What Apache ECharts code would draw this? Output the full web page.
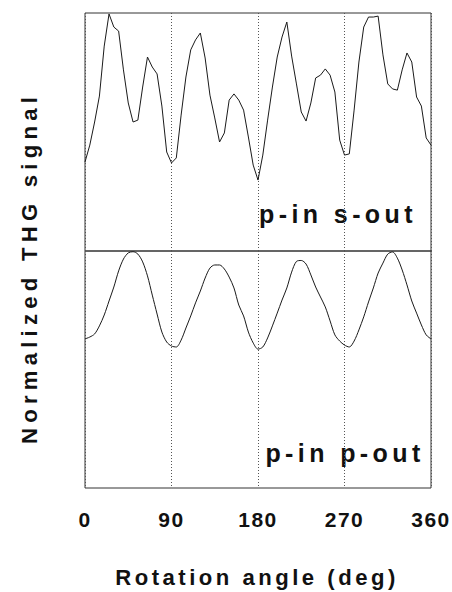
<!DOCTYPE html>
<html><head><meta charset="utf-8">
<script src="https://cdn.jsdelivr.net/npm/echarts@6/dist/echarts.min.js"></script>
<style>
html,body{margin:0;padding:0;background:#fff;}
#chart{width:452px;height:592px;}
#chart text[style*="22.2px"]{letter-spacing:5.2px;}
#chart text[style*="22.1px"]{letter-spacing:3.5px;}
#chart text[style*="25px"]{letter-spacing:4.4px;}
#chart text[style*="21px"]{letter-spacing:1.5px;}
</style></head><body><div id="chart"></div>
<script>
// Rotation angle (deg)
const angles = [0,5,10,15,20,25,30,35,40,45,50,55,60,65,70,75,80,85,90,95,100,105,110,115,120,125,130,135,140,145,150,155,160,165,170,175,180,185,190,195,200,205,210,215,220,225,230,235,240,245,250,255,260,265,270,275,280,285,290,295,300,305,310,315,320,325,330,335,340,345,350,355,360];
// p-in s-out (upper panel, % of panel height)
const sOut = [37.4,44.5,54.2,65.1,86.1,99.6,94.1,92.4,76.1,62.2,54.2,55.0,68.9,81.5,77.3,74.4,60.9,41.6,37.0,39.1,57.1,73.1,84.5,88.7,91.6,81.1,65.5,55.9,45.8,49.6,63.4,66.0,63.4,59.2,47.9,36.1,29.8,40.3,55.0,68.9,81.5,89.9,96.2,81.9,70.2,58.4,54.6,62.2,72.7,73.9,76.5,73.9,66.8,46.6,40.3,40.8,59.2,79.4,94.1,98.3,98.3,98.7,82.4,70.2,68.1,67.6,76.1,83.2,79.4,64.7,60.9,47.5,44.5];
// p-in p-out (lower panel, % of panel height)
const pOut = [62.9,63.7,65.0,68.4,73.0,78.9,84.8,91.6,96.6,99.2,99.7,98.7,95.4,89.5,81.4,73.4,65.8,61.6,59.9,59.5,62.4,67.5,72.6,78.1,83.1,88.6,92.8,94.1,94.1,92.4,89.0,84.4,77.2,72.6,65.8,61.2,58.6,59.5,63.3,68.4,73.8,79.3,84.4,91.1,95.6,96.0,94.5,89.9,84.8,80.6,76.4,70.5,64.6,62.0,60.3,59.5,62.0,66.7,72.2,78.5,84.4,90.7,94.9,98.7,99.6,97.0,92.0,85.7,78.9,73.8,68.8,64.6,62.9];
const xTicks = [0,90,180,270,360];
const panelLabels = ['p-in s-out','p-in p-out'];
const xTitle = 'Rotation angle (deg)';
const yTitle = 'Normalized THG signal';

const chart = echarts.init(document.getElementById('chart'), null, {renderer:'svg'});
const FONT = 'Liberation Sans';
const xAxisBase = (gi, showLabels) => ({
  type:'value', gridIndex:gi, min:xTicks[0], max:xTicks[xTicks.length-1], interval:90,
  axisLine:{show:false}, axisTick:{show:false},
  axisLabel:{show:showLabels, margin:21, color:'#111', fontSize:21, fontWeight:'bold', fontFamily:FONT},
  splitLine:{show:true, lineStyle:{type:[1,2], color:'#555', width:1}}
});
const yAxisBase = gi => ({
  type:'value', gridIndex:gi, min:0, max:100,
  axisLine:{show:false}, axisTick:{show:false}, axisLabel:{show:false}, splitLine:{show:false}
});
chart.setOption({
  animation:false,
  backgroundColor:'#fff',
  grid:[
    {left:85, right:21, top:13, height:238, show:true, borderColor:'#333', borderWidth:1},
    {left:85, right:21, top:251, height:237, show:true, borderColor:'#333', borderWidth:1}
  ],
  xAxis:[xAxisBase(0,false), xAxisBase(1,true)],
  yAxis:[yAxisBase(0), yAxisBase(1)],
  series:[
    {type:'line', xAxisIndex:0, yAxisIndex:0, showSymbol:false, symbol:'none',
     lineStyle:{color:'#1a1a1a', width:1}, data:angles.map((a,i)=>[a,sOut[i]])},
    {type:'line', xAxisIndex:1, yAxisIndex:1, showSymbol:false, symbol:'none', smooth:0.3,
     lineStyle:{color:'#1a1a1a', width:1}, data:angles.map((a,i)=>[a,pOut[i]])}
  ],
  graphic:[
    {type:'text', x:257, y:577.5, style:{text:xTitle, fill:'#111', font:'bold 22.1px "Liberation Sans"', textAlign:'center', textVerticalAlign:'middle'}},
    {type:'text', x:29.5, y:268, rotation:Math.PI/2, style:{text:yTitle, fill:'#111', font:'bold 22.2px "Liberation Sans"', textAlign:'center', textVerticalAlign:'middle'}},
    {type:'text', x:338, y:214.3, style:{text:panelLabels[0], fill:'#111', font:'bold 25px "Liberation Sans"', textAlign:'center', textVerticalAlign:'middle'}},
    {type:'text', x:345, y:453.3, style:{text:panelLabels[1], fill:'#111', font:'bold 25px "Liberation Sans"', textAlign:'center', textVerticalAlign:'middle'}}
  ]
});
</script></body></html>
